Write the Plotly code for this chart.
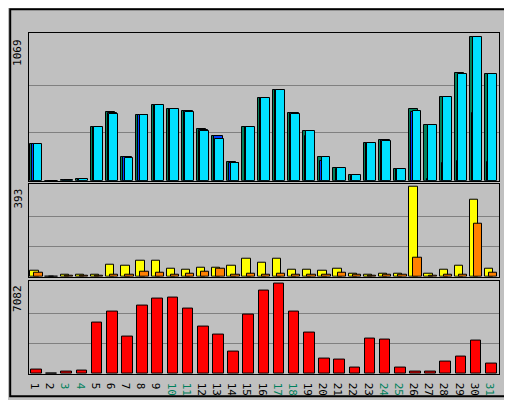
import plotly.graph_objects as go

days = list(range(1, 32))
weekend = {3, 4, 10, 11, 17, 18, 24, 25, 31}

hits = [275, 0, 7, 15, 401, 510, 180, 486, 566, 537, 522, 384, 333, 139, 401, 620,
        678, 508, 369, 180, 92, 41, 282, 306, 85, 532, 415, 624, 800, 1069, 792]
files = [275, 0, 5, 12, 401, 505, 178, 486, 566, 537, 518, 379, 333, 135, 401, 620,
         678, 505, 333, 143, 90, 38, 282, 303, 85, 510, 15, 131, 146, 508, 138]
pages = [275, 0, 3, 12, 401, 500, 172, 486, 566, 537, 515, 374, 311, 129, 401, 620,
         678, 500, 369, 180, 92, 41, 282, 296, 85, 522, 415, 624, 792, 1069, 792]
visits = [26, 0, 9, 9, 9, 51, 47, 68, 68, 34, 30, 38, 38, 47, 77, 60,
          77, 30, 30, 26, 34, 13, 9, 13, 13, 393, 13, 30, 47, 336, 34]
sites = [17, 0, 4, 4, 4, 9, 9, 21, 17, 9, 13, 21, 34, 9, 13, 9,
         13, 9, 9, 9, 17, 9, 4, 9, 9, 81, 4, 9, 9, 230, 17]
kbytes = [336, 0, 181, 259, 3981, 4912, 2895, 5377, 5920, 5997, 5144, 3671, 3050, 1732,
          4679, 6540, 7082, 4912, 3205, 1189, 1112, 491, 2740, 2663, 491, 181, 181, 956,
          1344, 2585, 801]

BG = '#C0C0C0'
FONT = 'DejaVu Sans Mono'

fig = go.Figure()


def bar(y, color, offset, width, axis):
    fig.add_trace(go.Bar(
        x=days, y=y, offset=offset, width=width,
        marker=dict(color=color, line=dict(color='black', width=1)),
        xaxis='x' if axis == 1 else f'x{axis}', yaxis='y' if axis == 1 else f'y{axis}',
        showlegend=False,
    ))


# top panel: hits / files / pages
bar(hits, '#00805C', -0.42, 0.6, 1)
bar(files, '#0040FF', -0.28, 0.6, 1)
bar(pages, '#00E0FF', -0.2, 0.58, 1)
# middle: visits / sites
bar(visits, '#FFFF00', -0.42, 0.55, 2)
bar(sites, '#FF8000', -0.15, 0.55, 2)
# bottom: kbytes
bar(kbytes, '#FF0000', -0.36, 0.7, 3)

tick_text = [f"<span style='color:{'#00805C' if d in weekend else 'black'}'>{d}</span>"
             for d in days]

axis_common = dict(range=[0.5, 31.5], showgrid=False, zeroline=False,
                   linecolor='black', mirror=True, showline=True, ticks='')
fig.update_layout(
    xaxis=dict(**axis_common, showticklabels=False, anchor='y'),
    xaxis2=dict(**axis_common, showticklabels=False, anchor='y2', matches='x'),
    xaxis3=dict(**axis_common, anchor='y3', tickvals=days, ticktext=tick_text,
                tickfont=dict(size=11, family=FONT), matches='x'),
)

for i, (mx, dom) in enumerate([(max(hits), [0.567, 1]), (max(visits), [0.285, 0.558]),
                               (max(kbytes), [0, 0.274])], start=1):
    key = 'yaxis' if i == 1 else f'yaxis{i}'
    fig.layout[key] = dict(domain=dom, range=[0, mx * 1.03], tickvals=[mx / 3, 2 * mx / 3],
                           showticklabels=False, gridcolor='#808080', zeroline=False,
                           showline=True, linecolor='black', mirror=True,
                           anchor='x' if i == 1 else f'x{i}')
    fig.add_annotation(xref='paper', yref=f'y{i}' if i > 1 else 'y', x=-0.005, y=mx,
                       text=str(mx), textangle=-90, showarrow=False, xanchor='right',
                       yanchor='top', font=dict(family=FONT, size=11, color='black'))

right_labels = [
    ("<span style='color:#00E0FF'>Pages</span> / <span style='color:#0040FF'>Files</span>"
     " / <span style='color:#00805C'>Hits</span>", 'y', max(hits)),
    ("<span style='color:#FF8000'>Sites</span> / <span style='color:#FFFF00'>Visits</span>",
     'y2', max(visits)),
    ("<span style='color:#FF0000'>KBytes</span>", 'y3', 0),
]
for txt, yr, yv in right_labels:
    fig.add_annotation(xref='paper', yref=yr, x=1.005, y=yv, text=txt, textangle=-90,
                       showarrow=False, xanchor='left',
                       yanchor='top' if yv else 'bottom',
                       font=dict(family=FONT, size=11, color='black'))

fig.add_annotation(xref='paper', yref='paper', x=-0.03, y=1.075, text='<b>Daily usage for May 2014</b>',
                   showarrow=False, xanchor='left', yanchor='bottom',
                   font=dict(family=FONT, size=12, color='#0000FF'))

fig.update_layout(
    width=512, height=400, bargap=0, barmode='overlay',
    paper_bgcolor=BG, plot_bgcolor=BG,
    margin=dict(l=21, r=21, t=25, b=24),
    shapes=[dict(type='rect', xref='paper', yref='paper', x0=-0.04, x1=1.04, y0=-0.065,
                 y1=1.07, line=dict(color='black', width=2))],
)

fig.write_html("out.html")
